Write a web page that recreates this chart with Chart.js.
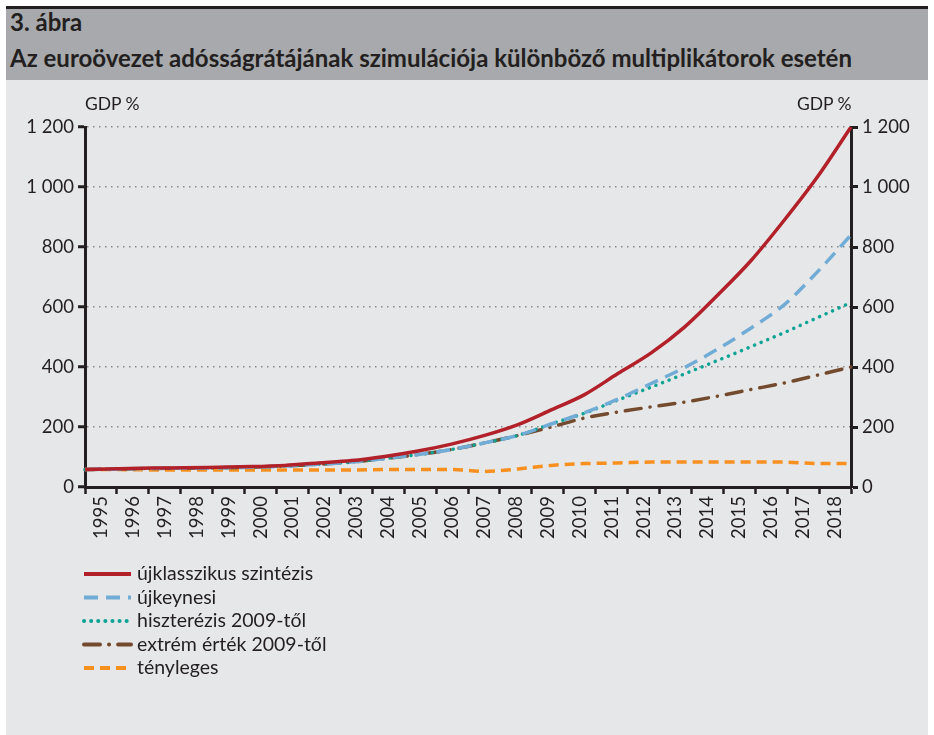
<!DOCTYPE html>
<html>
<head>
<meta charset="utf-8">
<script src="https://cdn.jsdelivr.net/npm/chart.js@4"></script>
<style>
  body { margin: 0; background: #fff; width: 934px; height: 735px; position: relative; overflow: hidden; font-family: Lato, sans-serif; }
  #topline { position: absolute; left: 6px; top: 6px; width: 922px; height: 3px; background: #231f20; }
  #head { position: absolute; left: 6px; top: 9px; width: 922px; height: 71px; background: #a7a9ac; color: #231f20; font-weight: bold; font-size: 24px; }
  #head div { position: absolute; left: 4px; white-space: nowrap; }
  #wrap { position: absolute; left: 6px; top: 80px; width: 922px; height: 655px; background: #e6e7e8; }
  .unit { position: absolute; top: 13px; font-size: 17.5px; color: #231f20; }
</style>
</head>
<body>
<div id="topline"></div>
<div id="head">
  <div style="top:-2px">3. ábra</div>
  <div style="top:34px">Az euroövezet adósságrátájának szimulációja különböző multiplikátorok esetén</div>
</div>
<div id="wrap">
  <canvas id="grafico" width="922" height="655"></canvas>
  <div class="unit" style="left:79px">GDP %</div>
  <div class="unit" style="left:791px">GDP %</div>
</div>
<script>
const evek = ['1995','1996','1997','1998','1999','2000','2001','2002','2003','2004','2005','2006',
              '2007','2008','2009','2010','2011','2012','2013','2014','2015','2016','2017','2018'];
const ujklasszikus = [58, 61, 63, 64, 66, 68, 72, 80, 88, 102, 120, 143, 172, 208, 257, 308, 378, 447, 533, 640, 755, 890, 1035, 1200];
const ujkeynesi = [58, 60, 62, 63, 64, 66, 70, 76, 83, 95, 108, 125, 147, 172, 210, 248, 293, 345, 398, 460, 530, 608, 718, 840];
const hiszterezis = [58, 60, 62, 63, 64, 66, 70, 76, 83, 95, 108, 125, 147, 172, 210, 246, 290, 333, 377, 422, 468, 515, 565, 615];
const extrem = [58, 60, 62, 63, 64, 66, 70, 76, 83, 95, 108, 125, 147, 172, 200, 230, 250, 267, 283, 303, 325, 347, 373, 400];
const tenyleges = [58, 58, 57, 57, 57, 57, 57, 57, 57, 58, 58, 58, 52, 60, 72, 78, 80, 83, 83, 83, 83, 83, 78, 78];
const yTicks = [0, 200, 400, 600, 800, 1000, 1200];

const fekete = '#231f20';
const betu = { family: 'Lato, sans-serif', size: 18.5 };

function ezres(v) {
    return String(v).replace(/\B(?=(\d{3})+(?!\d))/g, ' ');
}

// legend drawn by hand: vertical list under the x labels
const sajatJelmagyarazat = {
    id: 'sajatJelmagyarazat',
    afterDraw(chart) {
        const ctx = chart.ctx;
        chart.data.datasets.forEach((ds, i) => {
            const y = 494 + i * 23.5;
            ctx.save();
            ctx.strokeStyle = ds.borderColor;
            ctx.lineWidth = 4;
            ctx.lineCap = ds.borderCapStyle || 'butt';
            ctx.setLineDash(ds.borderDash || []);
            ctx.beginPath();
            ctx.moveTo(78, y);
            ctx.lineTo(125, y);
            ctx.stroke();
            ctx.restore();
            ctx.fillStyle = fekete;
            ctx.font = '19.5px Lato, sans-serif';
            ctx.textBaseline = 'middle';
            ctx.fillText(ds.label, 131, y);
        });
    }
};

function criarGrafico() {
    new Chart(document.getElementById('grafico'), {
        type: 'line',
        data: {
            labels: evek,
            datasets: [
                { label: 'újklasszikus szintézis', data: ujklasszikus, borderColor: '#b2202a', borderWidth: 3.5 },
                { label: 'újkeynesi', data: ujkeynesi, borderColor: '#71acd6', borderWidth: 3.5, borderDash: [14, 8] },
                { label: 'hiszterézis 2009-től', data: hiszterezis, borderColor: '#0ea394', borderWidth: 3.5, borderDash: [0.1, 7], borderCapStyle: 'round' },
                { label: 'extrém érték 2009-től', data: extrem, borderColor: '#744a2e', borderWidth: 3.5, borderDash: [16, 9, 0.1, 9], borderCapStyle: 'round' },
                { label: 'tényleges', data: tenyleges, borderColor: '#f7901e', borderWidth: 3.5, borderDash: [10, 6] }
            ].map(d => Object.assign({ xAxisID: 'xData', yAxisID: 'y', pointRadius: 0, fill: false, cubicInterpolationMode: 'monotone' }, d))
        },
        plugins: [sajatJelmagyarazat],
        options: {
            responsive: false,
            animation: false,
            layout: { padding: { top: 47, left: 0, right: 0, bottom: 0 } },
            plugins: { legend: { display: false }, tooltip: { enabled: false } },
            scales: {
                xData: { type: 'category', display: false, offset: false },
                x: {
                    type: 'category',
                    position: 'bottom',
                    offset: true,
                    afterFit: s => { s.height = 248; },
                    grid: { offset: true, drawOnChartArea: false, tickLength: 7, tickColor: fekete, tickWidth: 2.5 },
                    border: { color: fekete, width: 3 },
                    ticks: { color: fekete, font: betu, minRotation: 90, maxRotation: 90, padding: 2, autoSkip: false }
                },
                y: {
                    position: 'left',
                    min: 0, max: 1200,
                    afterFit: s => { s.width = 79; },
                    afterBuildTicks: s => { s.ticks = yTicks.map(v => ({ value: v })); },
                    grid: { color: '#8a8a8a', lineWidth: 1.5, tickLength: 7, tickColor: fekete, tickWidth: 3 },
                    border: { color: fekete, width: 3, dash: [1.5, 4.5] },
                    ticks: { color: fekete, font: betu, padding: 4, callback: v => ezres(v) }
                },
                y2: {
                    position: 'right',
                    min: 0, max: 1200,
                    afterFit: s => { s.width = 77; },
                    afterBuildTicks: s => { s.ticks = yTicks.map(v => ({ value: v })); },
                    grid: { drawOnChartArea: false, tickLength: 7, tickColor: fekete, tickWidth: 3 },
                    border: { color: fekete, width: 3 },
                    ticks: { color: fekete, font: betu, padding: 4, callback: v => ezres(v) }
                }
            }
        }
    });
}

window.onload = function () {
    criarGrafico();
};
</script>
</body>
</html>
